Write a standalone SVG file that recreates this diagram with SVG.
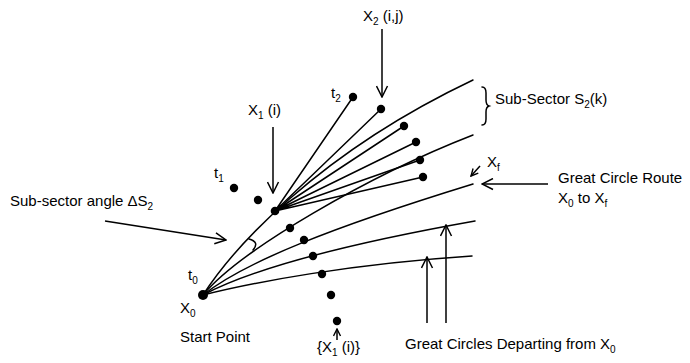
<svg xmlns="http://www.w3.org/2000/svg" width="690" height="363" viewBox="0 0 690 363">
<defs>
<style>
.ln{fill:none;stroke:#000;stroke-width:1.5;stroke-linecap:round}
.ar{fill:none;stroke:#000;stroke-width:1.5;marker-end:url(#ah)}
.ars{fill:none;stroke:#000;stroke-width:1.5;marker-end:url(#ahs)}
.dot{fill:#000}
text{font-family:"Liberation Sans",Arial,sans-serif;font-size:15px;fill:#000}
.sub{font-size:10px}
</style>
<marker id="ah" viewBox="0 0 13 13" refX="12" refY="6.5" markerWidth="13" markerHeight="13" markerUnits="userSpaceOnUse" orient="auto">
<path d="M1,1 L12,6.5 L1,12" fill="none" stroke="#000" stroke-width="1.5"/>
</marker>
<marker id="ahs" viewBox="0 0 9 9" refX="8" refY="4.5" markerWidth="9" markerHeight="9" markerUnits="userSpaceOnUse" orient="auto">
<path d="M1,1 L8,4.5 L1,8" fill="none" stroke="#000" stroke-width="1.4"/>
</marker>
</defs>
<rect width="690" height="363" fill="#fff"/>
<g id="connectors">
<path class="ln" d="M203,295 C232,250 315,155 473,80"/>
<path class="ln" d="M203,295 C240,250 370,175 473,135"/>
<path class="ln" d="M203,295 C245,262 330,228 473,184"/>
<path class="ln" d="M203,295 C250,270 340,245 475,221"/>
<path class="ln" d="M203,295 C255,282 350,264 472,256"/>
<path class="ln" d="M275,211 L353,97 M275,211 L381,109 M275,211 L404,126 M275,211 L416,142 M275,211 L420,160 M275,211 L423,177"/>
<path class="ln" d="M249,239 Q260,242 253,250"/>
<path class="ln" d="M482,87 Q486,87 486,93 L486,100 Q486,105 489,106 Q486,107 486,112 L486,119 Q486,125 482,125"/>
<line class="ar" x1="105" y1="221" x2="226" y2="240"/>
<line class="ar" x1="273" y1="127" x2="273" y2="193"/>
<line class="ar" x1="382" y1="29" x2="382" y2="97"/>
<line class="ar" x1="548" y1="184" x2="482" y2="184"/>
<line class="ars" x1="480" y1="166" x2="471" y2="176"/>
<line class="ars" x1="337" y1="340" x2="337" y2="329"/>
<line class="ar" x1="427" y1="323" x2="427" y2="257"/>
<line class="ar" x1="446" y1="323" x2="446" y2="225"/>
</g>
<g id="X0"><circle class="dot" cx="203" cy="295" r="5"/></g>
<g id="X1"><circle class="dot" cx="275" cy="211" r="4.3"/></g>
<g id="t1-points"><circle class="dot" cx="234" cy="188" r="4.2"/><circle class="dot" cx="258" cy="200" r="4.2"/></g>
<g id="X1-set">
<circle class="dot" cx="290" cy="228" r="4.2"/>
<circle class="dot" cx="304" cy="240" r="4.2"/>
<circle class="dot" cx="313" cy="256" r="4.2"/>
<circle class="dot" cx="322" cy="274" r="4.2"/>
<circle class="dot" cx="331" cy="295" r="4.2"/>
<circle class="dot" cx="337" cy="321" r="4.2"/>
</g>
<g id="X2-set">
<circle class="dot" cx="353" cy="97" r="4.2"/>
<circle class="dot" cx="381" cy="109" r="4.2"/>
<circle class="dot" cx="404" cy="126" r="4.2"/>
<circle class="dot" cx="416" cy="142" r="4.2"/>
<circle class="dot" cx="420" cy="160" r="4.2"/>
<circle class="dot" cx="423" cy="177" r="4.2"/>
</g>
<g id="labels">
<text x="363" y="21">X<tspan class="sub" dy="4">2</tspan><tspan dy="-4"> (i,j)</tspan></text>
<text x="331" y="98">t<tspan class="sub" dy="4">2</tspan></text>
<text x="248" y="115">X<tspan class="sub" dy="4">1</tspan><tspan dy="-4"> (i)</tspan></text>
<text x="214" y="178">t<tspan class="sub" dy="4">1</tspan></text>
<text x="10" y="206">Sub-sector angle ΔS<tspan class="sub" dy="4">2</tspan></text>
<text x="188" y="280">t<tspan class="sub" dy="4">0</tspan></text>
<text x="180" y="313">X<tspan class="sub" dy="4">0</tspan></text>
<text x="180" y="342">Start Point</text>
<text x="317" y="352">{X<tspan class="sub" dy="4">1</tspan><tspan dy="-4"> (i)}</tspan></text>
<text x="405" y="349">Great Circles Departing from X<tspan class="sub" dy="4">0</tspan></text>
<text x="558" y="183">Great Circle Route</text>
<text x="558" y="203">X<tspan class="sub" dy="4">0</tspan><tspan dy="-4"> to X</tspan><tspan class="sub" dy="4">f</tspan></text>
<text x="487" y="167">X<tspan class="sub" dy="4">f</tspan></text>
<text x="495" y="104">Sub-Sector S<tspan class="sub" dy="4">2</tspan><tspan dy="-4">(k)</tspan></text>
</g>
</svg>
